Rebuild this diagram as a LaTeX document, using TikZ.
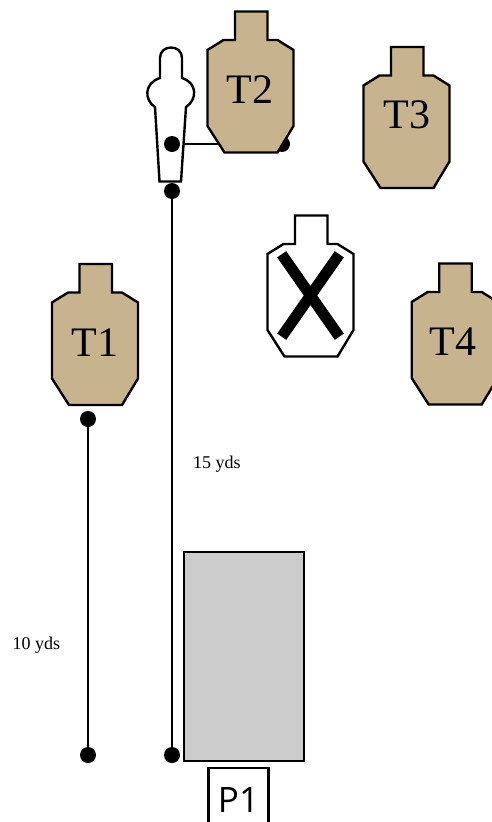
\documentclass[tikz,border=0pt]{standalone}
\usepackage{fontspec}
\setmainfont{Liberation Serif}
\newfontfamily\plainsans{Open Sans}
\definecolor{tan}{HTML}{C8B38F}
\definecolor{lotgray}{HTML}{CCCCCC}
\tikzset{
  x=1pt,y=-1pt,
  outline/.style={draw=black,line width=2.4pt,line join=miter},
  dot/.style={circle,fill=black,draw=none,inner sep=0pt,minimum size=16pt},
  link/.style={draw=black,line width=1.6pt},
  tlabel/.style={font=\fontsize{42}{42}\selectfont,inner sep=0pt,text=black},
  small/.style={font=\fontsize{18}{18}\selectfont,inner sep=0pt,text=black},
  silhouette/.pic={
    \path[pic actions,outline] (27.5,0) -- (60,0) -- (60,28.5) -- (70,28.5) -- (86,38.5) -- (86,114.5) -- (70,141) -- (17,141) -- (0,114.5) -- (0,38.5) -- (16,28.5) -- (27.5,28.5) -- cycle;
  }
}
\begin{document}
\begin{tikzpicture}
\useasboundingbox (0,0) rectangle (492,822);
\clip (0,0) rectangle (492,822);
% dots and connectors
\node[dot] (a) at (172,144) {};
\node[dot] (b) at (282,144) {};
\node[dot] (c) at (172,191) {};
\node[dot] (d) at (172,755) {};
\node[dot] (e) at (88,419) {};
\node[dot] (f) at (88,755) {};
\draw[link] (a) -- (b);
\draw[link] (c) -- (d);
\draw[link] (e) -- (f);
% shooter
\draw[outline,fill=white] (160,78) -- (160,58) .. controls (160,44) and (182,44) .. (182,58) -- (182,78)
  .. controls (198,83) and (197,100) .. (186,107) -- (181,181.5) -- (159.5,181.5) -- (155,107)
  .. controls (144,100) and (144,83) .. (160,78) -- cycle;
\node[dot] (a2) at (172,144) {};
% targets
\pic[fill=tan] at (207.5,11.5) {silhouette};
\pic[fill=tan] at (363.5,47) {silhouette};
\pic[fill=tan] at (52,264) {silhouette};
\pic[fill=tan] at (411.7,263.5) {silhouette};
\pic[fill=white] at (267.5,215.5) {silhouette};
\coordinate (x1) at (281.7,254.3);
\coordinate (x2) at (339.3,336.7);
\coordinate (x3) at (339.3,254.3);
\coordinate (x4) at (281.7,336.7);
\draw[line width=11pt] (x1) -- (x2);
\draw[line width=11pt] (x3) -- (x4);
\node[tlabel] (t1) at (95,343) {T1};
\node[tlabel] (t2) at (250,90) {T2};
\node[tlabel] (t3) at (407,115) {T3};
\node[tlabel] (t4) at (453,342) {T4};
\node[small] (l15) at (217,464.5) {15 yds};
\node[small] (l10) at (36.5,645.5) {10 yds};
% lot
\node[draw=black,line width=2.4pt,fill=lotgray,inner sep=0pt,minimum width=120pt,minimum height=209pt] (p) at (244,656.5) {};
\node[draw=black,line width=2.4pt,inner sep=0pt,minimum width=60pt,minimum height=70pt,font=\plainsans\fontsize{35}{35}\selectfont] (p1) at (238.5,803) {\raisebox{6.5pt}{P1}};
\end{tikzpicture}
\end{document}
